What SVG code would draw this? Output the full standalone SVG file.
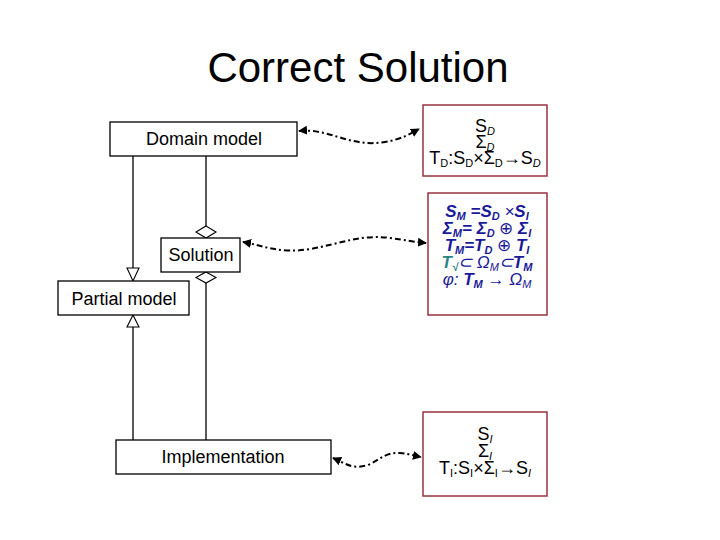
<svg xmlns="http://www.w3.org/2000/svg" width="720" height="540" viewBox="0 0 720 540">
<defs>
<style>
.box{fill:#fff;stroke:#000;stroke-width:1.3}
.rbox{fill:#fff;stroke:#993340;stroke-width:1.5}
.lbl{font-family:"Liberation Sans",Arial,sans-serif;font-size:18px;fill:#000;text-anchor:middle}
.math{font-family:"Liberation Sans",Arial,sans-serif;font-size:18px;fill:#000;text-anchor:middle}
.bm{font-family:"Liberation Sans",Arial,sans-serif;font-size:17px;font-weight:bold;font-style:italic;fill:#1a1a99;text-anchor:middle}
.sub{font-size:11px}
.ln{fill:none;stroke:#000;stroke-width:1.3}
.hollow{fill:#fff;stroke:#000;stroke-width:1.1}
.dd{fill:none;stroke:#000;stroke-width:2;stroke-dasharray:6 3 2 3;marker-start:url(#ah);marker-end:url(#ah)}
</style>
<marker id="ah" viewBox="0 0 10 10" refX="9" refY="5" markerWidth="4.5" markerHeight="4.5" orient="auto-start-reverse" markerUnits="strokeWidth">
<path d="M0,0 L10,5 L0,10 z" fill="#000"/>
</marker>
</defs>
<rect width="720" height="540" fill="#fff"/>
<text x="358" y="82" font-family="'Liberation Sans',Arial,sans-serif" font-size="42" text-anchor="middle" fill="#000">Correct Solution</text>

<g id="connectors">
<line class="ln" x1="133" y1="156" x2="133" y2="268"/>
<polygon class="hollow" points="127,268 139,268 133,281"/>
<line class="ln" x1="206" y1="156" x2="206" y2="226"/>
<polygon class="hollow" points="206,226 216,232 206,238 196,232"/>
<polygon class="hollow" points="206,272 216,277.5 206,283 196,277.5"/>
<line class="ln" x1="206" y1="283" x2="206" y2="440"/>
<polygon class="hollow" points="133,315 127,327 139,327"/>
<line class="ln" x1="133" y1="327" x2="133" y2="440"/>
<path class="dd" d="M299,131 C330,128 350,148 385,142 C402,139 410,134 419,129"/>
<path class="dd" d="M243,242 C265,246 280,254 310,249 C340,244 360,234 390,238 C405,240 415,242 426,243"/>
<path class="dd" d="M333,458 C345,463 352,470 368,465 C380,460 385,452 400,453 C410,454 416,456 421,457"/>
</g>

<g id="domain-model">
<rect class="box" x="110" y="122" width="187" height="34"/>
<text class="lbl" x="204" y="145">Domain model</text>
</g>
<g id="solution">
<rect class="box" x="161" y="238" width="79" height="34"/>
<text class="lbl" x="201" y="261">Solution</text>
</g>
<g id="partial-model">
<rect class="box" x="58" y="281" width="131" height="34"/>
<text class="lbl" x="124" y="305">Partial model</text>
</g>
<g id="implementation">
<rect class="box" x="116" y="440" width="215" height="34"/>
<text class="lbl" x="223" y="463">Implementation</text>
</g>

<g id="domain-spec">
<rect class="rbox" x="423" y="105" width="124" height="71"/>
<text class="math" x="485" y="132">S<tspan class="sub" font-style="italic" dy="3">D</tspan></text>
<text class="math" x="485" y="148">Σ<tspan class="sub" font-style="italic" dy="3">D</tspan></text>
<text class="math" x="485" y="164">T<tspan class="sub" dy="3">D</tspan><tspan dy="-3">:S</tspan><tspan class="sub" dy="3">D</tspan><tspan dy="-3">×Σ</tspan><tspan class="sub" dy="3">D</tspan><tspan dy="-3">→S</tspan><tspan class="sub" font-style="italic" dy="3">D</tspan></text>
</g>

<g id="model-spec">
<rect class="rbox" x="428" y="193" width="119" height="122"/>
<text class="bm" x="487" y="217">S<tspan class="sub" dy="3">M</tspan><tspan dy="-3"> =S</tspan><tspan class="sub" dy="3">D</tspan><tspan dy="-3" font-weight="normal"> ×</tspan><tspan>S</tspan><tspan class="sub" dy="3">I</tspan></text>
<text class="bm" x="487" y="234">Σ<tspan class="sub" dy="3">M</tspan><tspan dy="-3">= Σ</tspan><tspan class="sub" dy="3">D</tspan><tspan dy="-3" font-weight="normal" font-style="normal"> ⊕ </tspan><tspan>Σ</tspan><tspan class="sub" dy="3">I</tspan></text>
<text class="bm" x="487" y="251">T<tspan class="sub" dy="3">M</tspan><tspan dy="-3">=T</tspan><tspan class="sub" dy="3">D</tspan><tspan dy="-3" font-weight="normal" font-style="normal"> ⊕ </tspan><tspan>T</tspan><tspan class="sub" dy="3">I</tspan></text>
<text class="bm" x="487" y="268"><tspan fill="#2a8585">T</tspan><tspan class="sub" fill="#2a8585" dy="3">√</tspan><tspan dy="-3" font-weight="normal">⊂ Ω</tspan><tspan class="sub" font-weight="normal" dy="3">M</tspan><tspan dy="-3" font-weight="normal">⊂</tspan><tspan>T</tspan><tspan class="sub" dy="3">M</tspan></text>
<text class="bm" x="487" y="285"><tspan font-weight="normal">φ: </tspan>T<tspan class="sub" dy="3">M</tspan><tspan dy="-3" font-weight="normal"> → Ω</tspan><tspan class="sub" font-weight="normal" dy="3">M</tspan></text>
</g>

<g id="impl-spec">
<rect class="rbox" x="423" y="412" width="124" height="84"/>
<text class="math" x="485" y="440">S<tspan class="sub" font-style="italic" dy="3">I</tspan></text>
<text class="math" x="485" y="457">Σ<tspan class="sub" font-style="italic" dy="3">I</tspan></text>
<text class="math" x="485" y="474">T<tspan class="sub" dy="3">I</tspan><tspan dy="-3">:S</tspan><tspan class="sub" dy="3">I</tspan><tspan dy="-3">×Σ</tspan><tspan class="sub" dy="3">I</tspan><tspan dy="-3">→S</tspan><tspan class="sub" font-style="italic" dy="3">I</tspan></text>
</g>
</svg>
